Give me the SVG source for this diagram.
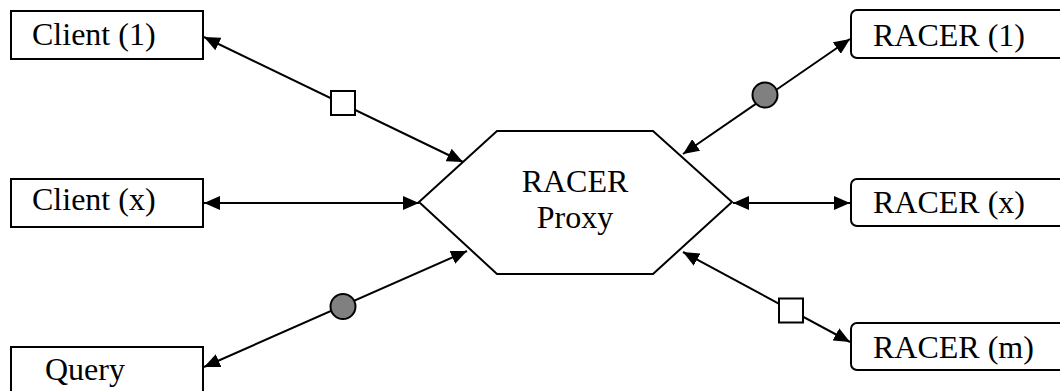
<svg xmlns="http://www.w3.org/2000/svg" width="1060" height="391" viewBox="0 0 1060 391">
  <style>
    .box { fill: #ffffff; stroke: #000000; stroke-width: 2; }
    .lbl { font-family: "Liberation Serif", "Times New Roman", serif; font-size: 32px; fill: #000000; }
    .link { stroke: #000000; stroke-width: 2; fill: none; marker-start: url(#arrow); marker-end: url(#arrow); }
    .sq { fill: #ffffff; stroke: #000000; stroke-width: 2; }
    .dot { fill: #808080; stroke: #000000; stroke-width: 2; }
  </style>
  <defs>
    <marker id="arrow" markerUnits="userSpaceOnUse" markerWidth="17" markerHeight="14" refX="16" refY="7" orient="auto-start-reverse" viewBox="0 0 17 14">
      <path d="M0,0 L16,7 L0,14 z" fill="#000000"/>
    </marker>
  </defs>

  <rect width="1060" height="391" fill="#ffffff"/>

  <!-- connectors -->
  <g id="connectors">
    <line class="link" x1="204" y1="37" x2="463" y2="162"/>
    <line class="link" x1="204" y1="203" x2="419" y2="203"/>
    <line class="link" x1="204" y1="367" x2="467" y2="251"/>
    <line class="link" x1="683" y1="154" x2="850" y2="39"/>
    <line class="link" x1="733" y1="203" x2="850" y2="203"/>
    <line class="link" x1="683" y1="252" x2="850" y2="342"/>
    <rect class="sq" x="331" y="91" width="24" height="24"/>
    <circle class="dot" cx="343" cy="306.5" r="12.5"/>
    <circle class="dot" cx="765" cy="95" r="12.5"/>
    <rect class="sq" x="779" y="298.5" width="24" height="24"/>
  </g>

  <!-- central proxy -->
  <g id="proxy">
    <polygon class="box" points="497,131 653,131 732,202 653,274 497,274 419,202"/>
    <text class="lbl" x="575" y="192" text-anchor="middle">RACER</text>
    <text class="lbl" x="575" y="228" text-anchor="middle">Proxy</text>
  </g>

  <!-- clients -->
  <g id="client-1">
    <rect class="box" x="11" y="11" width="192" height="48"/>
    <text class="lbl" x="32" y="45">Client (1)</text>
  </g>
  <g id="client-x">
    <rect class="box" x="11" y="179" width="192" height="48"/>
    <text class="lbl" x="32" y="210">Client (x)</text>
  </g>
  <g id="query">
    <rect class="box" x="11" y="347" width="192" height="60"/>
    <text class="lbl" x="45" y="380">Query</text>
  </g>

  <!-- reasoner instances -->
  <g id="racer-1">
    <rect class="box" x="851" y="10" width="220" height="48" rx="6" ry="6"/>
    <text class="lbl" x="873" y="46">RACER (1)</text>
  </g>
  <g id="racer-x">
    <rect class="box" x="851" y="179" width="220" height="47" rx="6" ry="6"/>
    <text class="lbl" x="873" y="213">RACER (x)</text>
  </g>
  <g id="racer-m">
    <rect class="box" x="851" y="323" width="220" height="47" rx="6" ry="6"/>
    <text class="lbl" x="873" y="358">RACER (m)</text>
  </g>
</svg>
